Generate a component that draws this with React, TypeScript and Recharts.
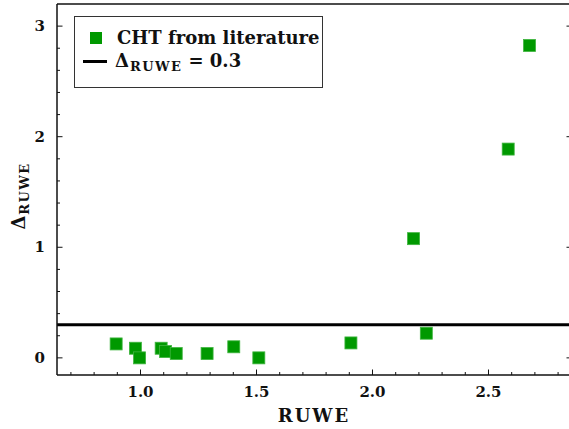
import React from 'react';
import {
  ScatterChart,
  Scatter,
  XAxis,
  YAxis,
  ReferenceLine,
  Legend,
} from 'recharts';

// CHT sample from the literature
const ruwe = [0.895, 0.978, 0.996, 1.089, 1.108, 1.154, 1.287, 1.402, 1.51, 1.907, 2.177, 2.232, 2.585, 2.677];
const deltaRuwe = [0.126, 0.087, 0.0, 0.087, 0.057, 0.039, 0.039, 0.1, 0.0, 0.135, 1.078, 0.223, 1.888, 2.825];

const threshold = 0.3;

const xMajor = [1.0, 1.5, 2.0, 2.5];
const xTicks = [0.7, 0.8, 0.9, 1.0, 1.1, 1.2, 1.3, 1.4, 1.5, 1.6, 1.7, 1.8, 1.9, 2.0, 2.1, 2.2, 2.3, 2.4, 2.5, 2.6, 2.7, 2.8];
const yMajor = [0, 1, 2, 3];
const yTicks = [0, 0.2, 0.4, 0.6, 0.8, 1, 1.2, 1.4, 1.6, 1.8, 2, 2.2, 2.4, 2.6, 2.8, 3];

const data = ruwe.map((r, i) => ({ ruwe: r, delta: deltaRuwe[i] }));

const FONT = '"DejaVu Serif", serif';
const GREEN = '#009900';
const AXIS = '#111';

const isMajor = (list: number[], v: number) => list.some((m) => Math.abs(m - v) < 1e-6);

// inward tick marks; labels only on bottom/left
const makeTick = (side: 'bottom' | 'top' | 'left' | 'right') => (props: any) => {
  const { x, y, payload } = props;
  const v = payload.value as number;
  const horiz = side === 'bottom' || side === 'top';
  const major = isMajor(horiz ? xMajor : yMajor, v);
  const len = major ? 5.5 : 3;
  let line;
  if (side === 'bottom') line = <line x1={x} x2={x} y1={y} y2={y - len} stroke={AXIS} strokeWidth={1} />;
  else if (side === 'top') line = <line x1={x} x2={x} y1={y} y2={y + len} stroke={AXIS} strokeWidth={1} />;
  else if (side === 'left') line = <line x1={x} x2={x + len} y1={y} y2={y} stroke={AXIS} strokeWidth={1} />;
  else line = <line x1={x} x2={x - len} y1={y} y2={y} stroke={AXIS} strokeWidth={1} />;
  return (
    <g>
      {line}
      {major && side === 'bottom' && (
        <text x={x} y={y + 22} textAnchor="middle" fontFamily={FONT} fontWeight="bold" fontSize={15} fill="#111">
          {v.toFixed(1)}
        </text>
      )}
      {major && side === 'left' && (
        <text x={x - 12} y={y + 5} textAnchor="end" fontFamily={FONT} fontWeight="bold" fontSize={15} fill="#111">
          {String(v)}
        </text>
      )}
    </g>
  );
};

const Square = (props: any) => {
  const { cx, cy } = props;
  return <rect x={cx - 6} y={cy - 6} width={12} height={12} fill={GREEN} stroke="#3fb53f" strokeWidth={0.8} />;
};

// Δ with a small-caps style RUWE subscript
const DeltaRuwe = () => (
  <span>
    Δ
    <span style={{ fontSize: 13, letterSpacing: 1.4, position: 'relative', top: 4, marginLeft: 1 }}>RUWE</span>
  </span>
);

const LegendBox = () => (
  <div
    style={{
      position: 'relative',
      width: 249,
      height: 72,
      boxSizing: 'border-box',
      border: '1.5px solid #333',
      background: '#fff',
      fontFamily: FONT,
      fontWeight: 'bold',
      fontSize: 18,
      color: '#111',
    }}
  >
    <div style={{ position: 'absolute', left: 15, top: 15, width: 12, height: 12, background: GREEN }} />
    <div style={{ position: 'absolute', left: 42, top: 9, lineHeight: '24px', whiteSpace: 'nowrap' }}>CHT from literature</div>
    <div style={{ position: 'absolute', left: 8, top: 43, width: 24, height: 3, background: '#000' }} />
    <div style={{ position: 'absolute', left: 40, top: 32, lineHeight: '24px', whiteSpace: 'nowrap' }}>
      <DeltaRuwe /> = 0.3
    </div>
  </div>
);

export default function App() {
  return (
    <div style={{ position: 'absolute', left: 0, top: 0, width: 569, height: 429, overflow: 'hidden', background: '#fff' }}>
      <ScatterChart width={580} height={429} margin={{ top: 0, right: 0, bottom: 0, left: 0 }}>
        <XAxis
          type="number"
          dataKey="ruwe"
          xAxisId="bottom"
          orientation="bottom"
          domain={[0.64, 2.86]}
          allowDataOverflow
          ticks={xTicks}
          interval={0}
          height={54}
          tickSize={0}
          tickMargin={0}
          axisLine={{ stroke: AXIS, strokeWidth: 1.5 }}
          tickLine={false}
          tick={makeTick('bottom')}
        />
        <XAxis
          type="number"
          xAxisId="top"
          orientation="top"
          domain={[0.64, 2.86]}
          allowDataOverflow
          ticks={xTicks}
          interval={0}
          height={4}
          tickSize={0}
          tickMargin={0}
          axisLine={{ stroke: AXIS, strokeWidth: 1.5 }}
          tickLine={false}
          tick={makeTick('top')}
        />
        <YAxis
          type="number"
          dataKey="delta"
          yAxisId="left"
          orientation="left"
          domain={[-0.155, 3.2]}
          allowDataOverflow
          ticks={yTicks}
          interval={0}
          width={57}
          tickSize={0}
          tickMargin={0}
          axisLine={{ stroke: AXIS, strokeWidth: 1.5 }}
          tickLine={false}
          tick={makeTick('left')}
        />
        <YAxis
          type="number"
          yAxisId="right"
          orientation="right"
          domain={[-0.155, 3.2]}
          allowDataOverflow
          ticks={yTicks}
          interval={0}
          width={8}
          tickSize={0}
          tickMargin={0}
          axisLine={{ stroke: AXIS, strokeWidth: 1.5 }}
          tickLine={false}
          tick={makeTick('right')}
        />
        <Scatter
          name="CHT from literature"
          data={data}
          xAxisId="bottom"
          yAxisId="left"
          shape={Square}
          isAnimationActive={false}
        />
        <ReferenceLine y={threshold} xAxisId="bottom" yAxisId="left" stroke="#000" strokeWidth={3} ifOverflow="hidden" />
        <Legend
          layout="vertical"
          align="center"
          verticalAlign="middle"
          wrapperStyle={{ left: 74, top: 16, width: 249 }}
          content={() => <LegendBox />}
        />
      </ScatterChart>
      <div
        style={{
          position: 'absolute',
          left: 314,
          top: 415,
          transform: 'translate(-50%, -50%)',
          fontFamily: FONT,
          fontWeight: 'bold',
          fontSize: 18,
          letterSpacing: 2,
          color: '#111',
          whiteSpace: 'nowrap',
        }}
      >
        RUWE
      </div>
      <div
        style={{
          position: 'absolute',
          left: 18,
          top: 196,
          transform: 'translate(-50%, -50%) rotate(-90deg)',
          fontFamily: FONT,
          fontWeight: 'bold',
          fontSize: 18,
          color: '#111',
          whiteSpace: 'nowrap',
        }}
      >
        <DeltaRuwe />
      </div>
    </div>
  );
}
